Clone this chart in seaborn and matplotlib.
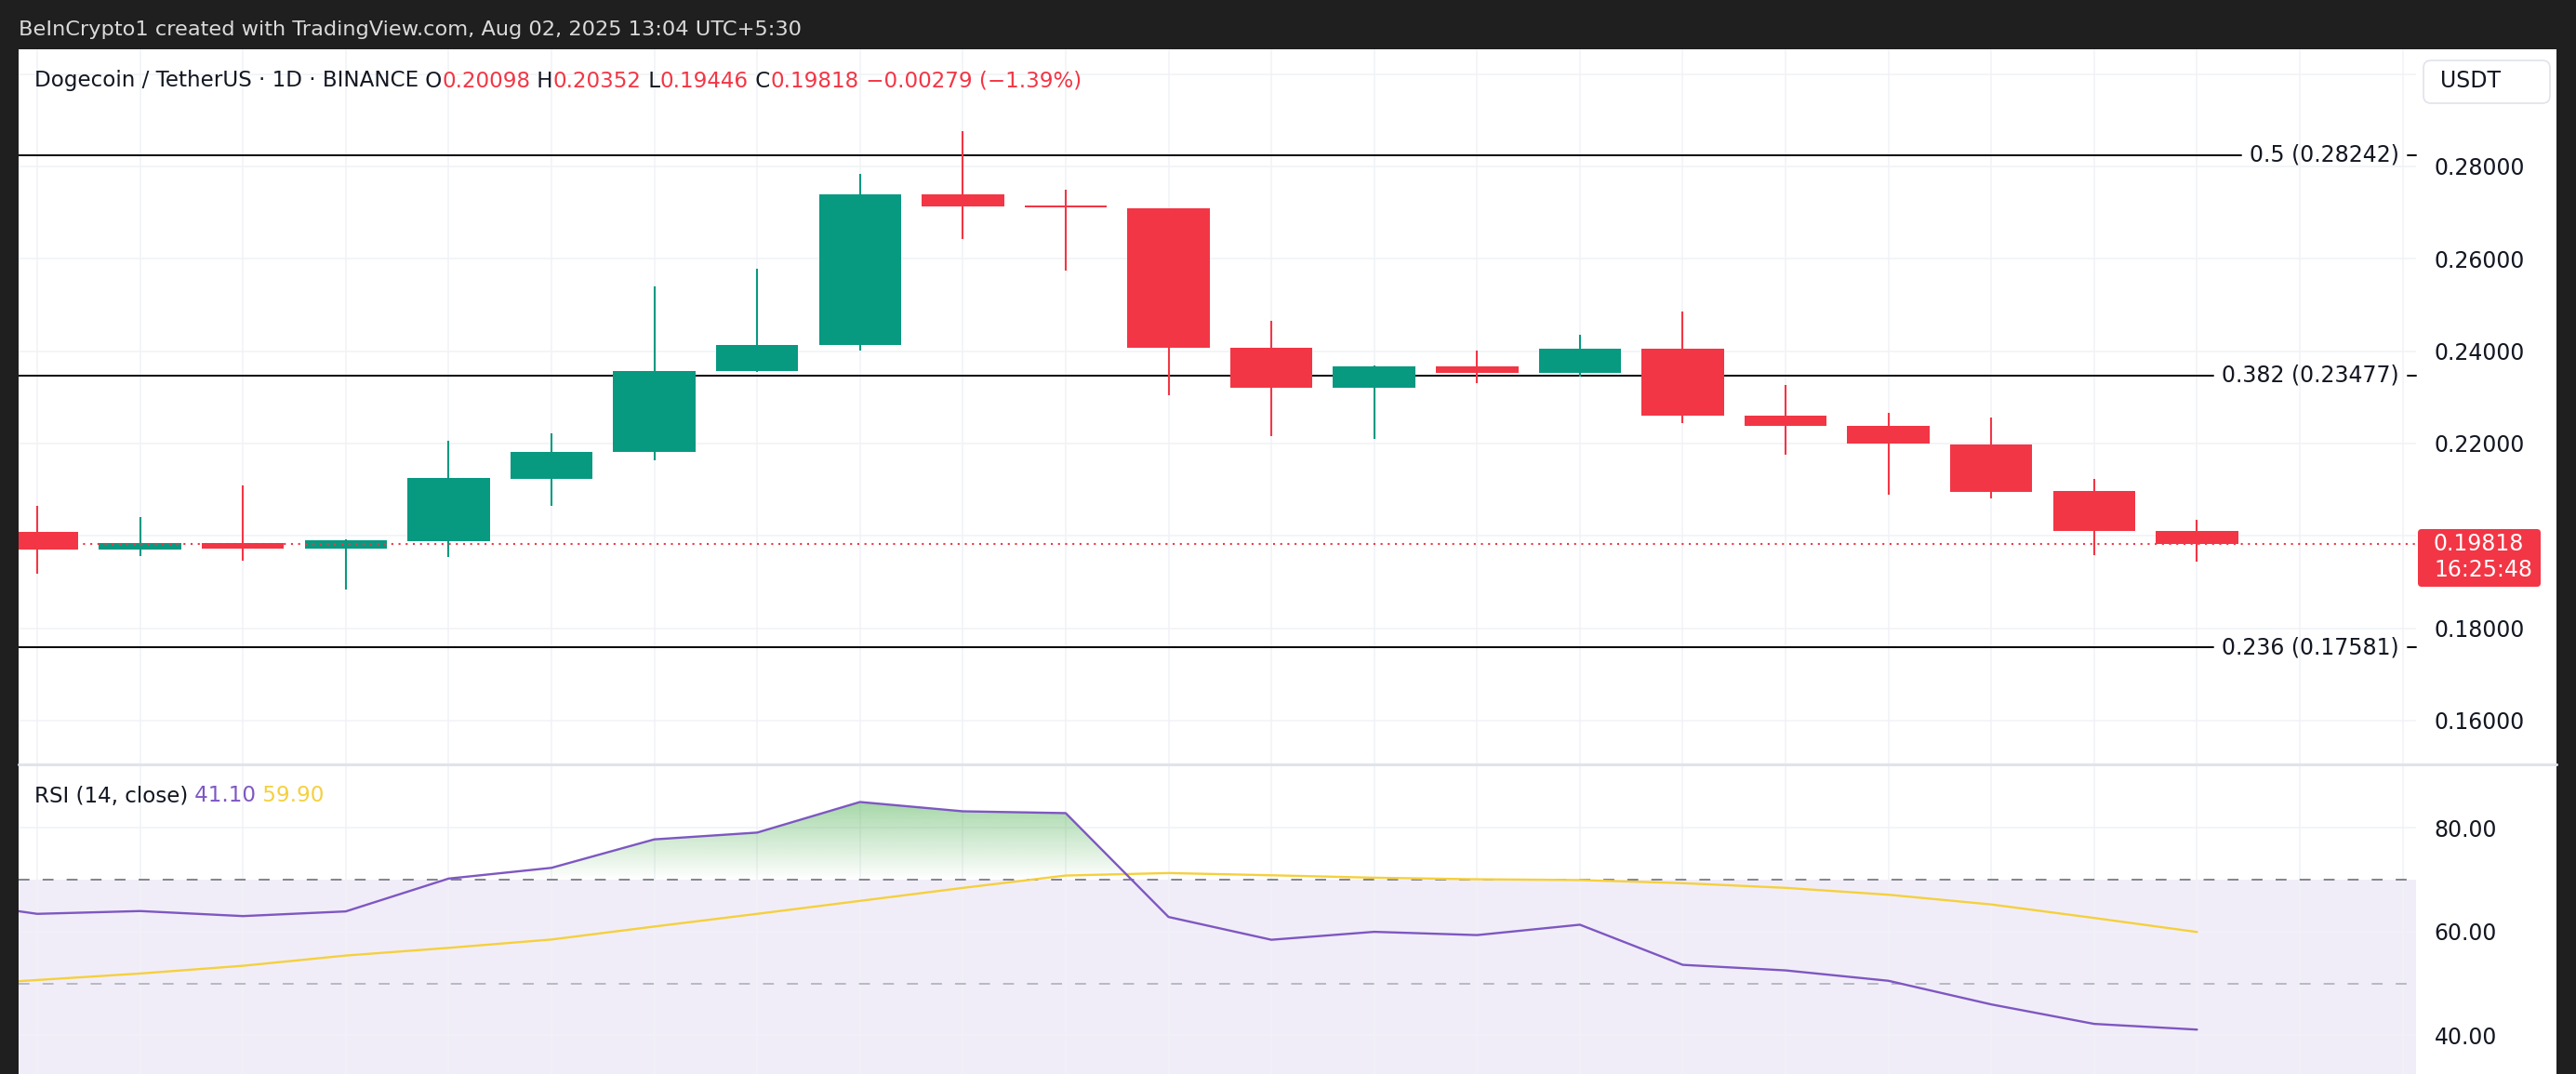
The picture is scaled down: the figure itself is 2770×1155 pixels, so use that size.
import numpy as np
import pandas as pd
import matplotlib.pyplot as plt
import matplotlib.transforms as mtransforms
from matplotlib.colors import to_rgb
from matplotlib.patches import FancyBboxPatch, Rectangle
from matplotlib.lines import Line2D
from matplotlib.path import Path
import seaborn as sns

W, H = 2770, 1155

# DOGE/USDT daily candles
days = list(range(22))
opens = [0.20087, 0.19704, 0.19845, 0.19724, 0.19886, 0.21237, 0.21808, 0.23563,
         0.24128, 0.27389, 0.27153, 0.27099, 0.24081, 0.23200, 0.23677, 0.23523,
         0.24061, 0.22608, 0.22387, 0.21983, 0.20975, 0.20098]
highs = [0.20652, 0.20410, 0.21089, 0.19926, 0.22064, 0.22225, 0.25405, 0.25775,
         0.27832, 0.28760, 0.27489, 0.27100, 0.24666, 0.23691, 0.24020, 0.24363,
         0.24867, 0.23274, 0.22656, 0.22568, 0.21237, 0.20352]
lows = [0.19187, 0.19563, 0.19469, 0.18837, 0.19543, 0.20652, 0.21627, 0.23550,
        0.24007, 0.26427, 0.25741, 0.23052, 0.22165, 0.22091, 0.23301, 0.23442,
        0.22434, 0.21748, 0.20900, 0.20820, 0.19590, 0.19446]
closes = [0.19711, 0.19845, 0.19724, 0.19906, 0.21257, 0.21822, 0.23577, 0.24141,
          0.27389, 0.27133, 0.27106, 0.24067, 0.23200, 0.23677, 0.23523, 0.24061,
          0.22595, 0.22373, 0.21990, 0.20961, 0.20097, 0.19818]

# RSI(14) and its moving average (first point is the day before the window)
rsi_days = list(range(-1, 22))
rsi_vals = [66.2, 63.39, 63.93, 62.96, 63.86, 70.18, 72.25, 77.73, 79.04, 84.93,
            83.14, 82.79, 62.79, 58.4, 59.93, 59.3, 61.3, 53.57, 52.5, 50.5,
            45.95, 42.2, 41.10]
rsi_ma = [49.4, 50.65, 51.9, 53.39, 55.36, 56.84, 58.45, 60.95, 63.39, 65.89,
          68.39, 70.77, 71.25, 70.82, 70.35, 70.05, 69.9, 69.3, 68.4, 67.07,
          65.2, 62.6, 59.90]

fib_ratios = ['0.5', '0.382', '0.236']
fib_prices = [0.28242, 0.23477, 0.17581]

price_ticks = [0.16, 0.18, 0.20, 0.22, 0.24, 0.26, 0.28, 0.30]
hidden_ticks = [0.20, 0.30]  # covered by the price tag and the USDT button
rsi_ticks = [40, 60, 80]

GREEN = '#089981'
RED = '#f23645'
PURPLE = '#7e57c2'
YELLOW = '#f5d03d'
INK = '#131722'
GRID = '#f0f2f6'

sns.set_theme(style='white')
plt.rcParams['font.family'] = ['DejaVu Sans']

fig = plt.figure(figsize=(W / 100, H / 100), dpi=100, facecolor='#1f1f1f')


def fx(x):
    return x / W


def fy(y):
    return 1 - y / H


fig.add_artist(Rectangle((fx(20), 0), fx(2749) - fx(20), fy(53), transform=fig.transFigure,
                         facecolor='white', edgecolor='none', zorder=-1))

left, right = fx(20), fx(2598)
ax1 = fig.add_axes([left, fy(822), right - left, fy(53) - fy(822)])
ax2 = fig.add_axes([left, 0, right - left, fy(823)])

for ax in (ax1, ax2):
    ax.set_facecolor('none')
    for s in ax.spines.values():
        s.set_visible(False)
    ax.set_xticks(range(24))
    ax.tick_params(axis='x', length=0, labelbottom=False)
    ax.yaxis.tick_right()
    ax.tick_params(axis='y', length=0, pad=14, labelsize=17, labelcolor=INK)
    ax.grid(True, color=GRID, lw=1.1)
    ax.set_axisbelow(True)

# ---- price panel
for i, o, h, l, c in zip(days, opens, highs, lows, closes):
    col = GREEN if c >= o else RED
    ax1.vlines(i, l, h, color=col, lw=1.5, zorder=3)
    ax1.bar(i, max(abs(c - o), 0.0004), bottom=min(o, c), width=0.8, color=col,
            linewidth=0, zorder=3)

ax1.axhline(closes[-1], color=RED, lw=1.5, ls=(0, (1, 2.7)), zorder=5)

ax1.set_xlim(-0.181, 23.13)
ax1.set_ylim(0.15052, 0.30537)
ax1.set_yticks(price_ticks)
ax1.set_yticklabels(['' if v in hidden_ticks else f'{v:.5f}' for v in price_ticks])

trans1 = mtransforms.blended_transform_factory(ax1.transAxes, ax1.transData)
fib_texts = []
for r, p in zip(fib_ratios, fib_prices):
    t = ax1.text(0.993, p, f'{r} ({p:.5f})', transform=trans1, ha='right', va='center',
                 fontsize=17, color=INK)
    fib_texts.append((t, p))
    ax1.plot([0.9965, 1.0], [p, p], transform=trans1, color='black', lw=1.4, clip_on=False)

# ---- RSI panel
ax2.axhspan(30, 70, color=PURPLE, alpha=0.1, lw=0, zorder=0)
ax2.axhline(70, color='#787b86', lw=1.3, ls=(0, (6.5, 7.8)), zorder=2.5)
ax2.axhline(50, color='#b2b5be', lw=1.3, ls=(0, (6.5, 7.8)), zorder=2.5)

rsi_df = pd.DataFrame({'day': rsi_days, 'RSI': rsi_vals, 'MA': rsi_ma})
sns.lineplot(data=rsi_df, x='day', y='MA', ax=ax2, color=YELLOW, lw=1.7, zorder=4)
sns.lineplot(data=rsi_df, x='day', y='RSI', ax=ax2, color=PURPLE, lw=1.7, zorder=5)
ax2.set_xlabel('')
ax2.set_ylabel('')

xr = np.array(rsi_days, float)
yr = np.array(rsi_vals)
ob = ax2.fill_between(xr, 70, yr, where=yr >= 70, interpolate=True,
                      facecolor='none', edgecolor='none')
clip = Path.make_compound_path(*ob.get_paths())
grad = np.zeros((256, 1, 4))
grad[..., :3] = to_rgb('#4caf50')
grad[:, 0, 3] = np.linspace(0, 1, 256)
im = ax2.imshow(grad, extent=[xr[0], xr[-1], 70, 100], origin='lower', aspect='auto',
                interpolation='bilinear', zorder=2)
im.set_clip_path(clip, transform=ax2.transData)

ax2.set_xlim(-0.181, 23.13)
ax2.set_ylim(32.55, 92.0)
ax2.set_yticks(rsi_ticks)
ax2.set_yticklabels([f'{v:.2f}' for v in rsi_ticks])

# panel separator
fig.add_artist(Line2D([fx(20), fx(2749)], [fy(822), fy(822)], transform=fig.transFigure,
                      color='#e0e3eb', lw=2.2, zorder=2))

# ---- texts
fig.text(fx(20), fy(32), 'BeInCrypto1 created with TradingView.com, Aug 02, 2025 13:04 UTC+5:30',
         color='#dadada', fontsize=16.2, va='center', ha='left')


def chain(x, y, parts, size):
    t = fig.text(x, y, parts[0][0], color=parts[0][1], fontsize=size, va='center', ha='left')
    for s, c in parts[1:]:
        t = ax1.annotate(s, xy=(1, 0), xycoords=t, va='bottom', ha='left',
                         color=c, fontsize=size)
    return t


chg = closes[-1] - closes[-2]
pct = chg / closes[-2] * 100
chain(fx(37), fy(87), [
    ('Dogecoin / TetherUS · 1D · BINANCE', INK),
    (' O', INK), (f'{opens[-1]:.5f}', RED),
    (' H', INK), (f'{highs[-1]:.5f}', RED),
    (' L', INK), (f'{lows[-1]:.5f}', RED),
    (' C', INK), (f'{closes[-1]:.5f}', RED),
    (f' {chg:.5f} ({pct:.2f}%)'.replace('-', '\u2212'), RED),
], 16.6)

chain(fx(37), fy(856), [
    ('RSI (14, close)', INK),
    (f' {rsi_vals[-1]:.2f}', PURPLE),
    (f' {rsi_ma[-1]:.2f}', YELLOW),
], 16.6)

ident = mtransforms.IdentityTransform()
fig.add_artist(FancyBboxPatch((2606, H - 111), 136, 46, boxstyle='round,pad=0,rounding_size=8',
                              transform=ident, facecolor='white', edgecolor='#e0e3eb',
                              lw=1.2, zorder=5))
fig.text(fx(2624), fy(87), 'USDT', fontsize=17, color=INK, va='center', ha='left', zorder=6)

fig.add_artist(FancyBboxPatch((2600, H - 631), 132, 62, boxstyle='round,pad=0,rounding_size=4',
                              transform=ident, facecolor=RED, edgecolor='none', zorder=5))
fig.text(fx(2617), fy(585), f'{closes[-1]:.5f}', fontsize=17, color='white',
         va='center', ha='left', zorder=6)
fig.text(fx(2617), fy(613), '16:25:48', fontsize=17, color='white',
         va='center', ha='left', zorder=6)

# fib lines stop just before their labels
fig.canvas.draw()
inv = ax1.transAxes.inverted()
for t, p in fib_texts:
    bb = t.get_window_extent()
    x_end = inv.transform((bb.x0 - 9, 0))[0]
    ax1.plot([0, x_end], [p, p], transform=trans1, color='black', lw=1.4, zorder=2)

fig.savefig('out.png', dpi=100, facecolor=fig.get_facecolor())
